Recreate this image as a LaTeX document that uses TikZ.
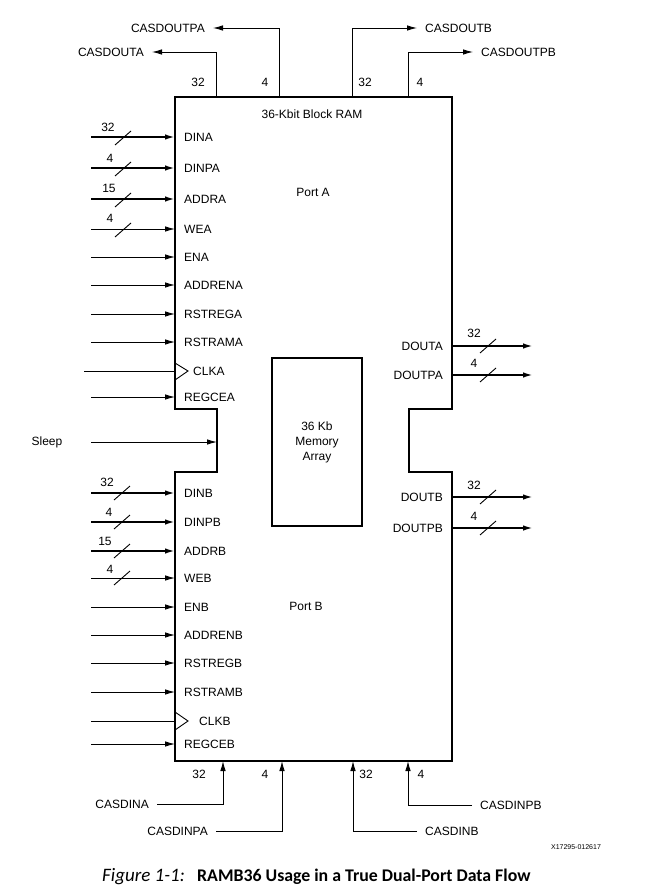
\documentclass[tikz,border=0pt]{standalone}
\usepackage{fontspec}
\setmainfont{Liberation Sans}
\newfontfamily\capfont{Carlito}
\usepackage{tikz}
\usetikzlibrary{arrows.meta, positioning}

\begin{document}
\begin{tikzpicture}[
    x=1pt, y=-1pt,
    font=\fontsize{12}{14}\selectfont,
    blk/.style={line width=2.2pt, line join=miter},
    memblk/.style={draw, line width=1.8pt, minimum width=90pt, minimum height=168pt, align=center, font=\fontsize{12}{15}\selectfont},
    arr/.style={-{Latex[length=10pt,width=5.5pt]}, line width=0.9pt},
    busarr/.style={-{Latex[length=10pt,width=5.5pt]}, line width=1.8pt},
    wire/.style={line width=0.9pt},
    slash/.style={line width=0.9pt},
    lpin/.style={anchor=west, inner xsep=9pt, inner ysep=0pt},
    rpin/.style={anchor=east, inner xsep=9pt, inner ysep=0pt},
    ltag/.style={anchor=east, inner xsep=8pt, inner ysep=0pt},
    rtag/.style={anchor=west, inner xsep=8pt, inner ysep=0pt},
    wlbl/.style={inner sep=0pt}
]
\useasboundingbox (0,0) rectangle (648,896);

% block outline with the sleep notch
\draw[blk] (175,97) -- (452,97) -- (452,409) -- (409,409) -- (409,472) -- (452,472)
    -- (452,761) -- (175,761) -- (175,472) -- (217,472) -- (217,409) -- (175,409) -- cycle;

\node (title) at (312,114) {36-Kbit Block RAM};
\node (porta) at (313,192) {Port A};
\node (portb) at (306,606) {Port B};
\node[memblk] (mem) at (317,442) {36 Kb\\Memory\\Array};

% port A inputs
\coordinate (dina-in) at (91,137);    \node[lpin] (dina) at (175,137) {DINA};
\coordinate (dinpa-in) at (91,168);   \node[lpin] (dinpa) at (175,168) {DINPA};
\coordinate (addra-in) at (91,199);   \node[lpin] (addra) at (175,199) {ADDRA};
\coordinate (wea-in) at (91,229);     \node[lpin] (wea) at (175,229) {WEA};
\coordinate (ena-in) at (91,257);     \node[lpin] (ena) at (175,257) {ENA};
\coordinate (addrena-in) at (91,285); \node[lpin] (addrena) at (175,285) {ADDRENA};
\coordinate (rstrega-in) at (91,314); \node[lpin] (rstrega) at (175,314) {RSTREGA};
\coordinate (rstrama-in) at (91,342); \node[lpin] (rstrama) at (175,342) {RSTRAMA};
\coordinate (clka-in) at (84,371);    \coordinate (clka-pin) at (175,371);
\node[lpin, inner xsep=18pt] (clka) at (175,371) {CLKA};
\coordinate (regcea-in) at (91,397);  \node[lpin] (regcea) at (175,397) {REGCEA};

\draw[busarr] (dina-in) -- (dina.west);
\draw[busarr] (dinpa-in) -- (dinpa.west);
\draw[busarr] (addra-in) -- (addra.west);
\draw[arr] (wea-in) -- (wea.west);
\draw[arr] (ena-in) -- (ena.west);
\draw[arr] (addrena-in) -- (addrena.west);
\draw[arr] (rstrega-in) -- (rstrega.west);
\draw[arr] (rstrama-in) -- (rstrama.west);
\draw[wire] (clka-in) -- (clka-pin);
\draw[wire] (175,363) -- (188,371) -- (175,380);
\draw[arr] (regcea-in) -- (regcea.west);

\node[wlbl] (w-dina) at (108,127) {32};
\node[wlbl] (w-dinpa) at (110,158) {4};
\node[wlbl] (w-addra) at (109,188) {15};
\node[wlbl] (w-wea) at (110,218) {4};
\draw[slash] (115,145) -- ++(16,-14);
\draw[slash] (115,176) -- ++(16,-14);
\draw[slash] (115,207) -- ++(16,-14);
\draw[slash] (115,237) -- ++(16,-14);

% sleep
\node (sleep) at (47,442) {Sleep};
\coordinate (sleep-in) at (91,442);
\coordinate (sleep-pin) at (217,442);
\draw[arr] (sleep-in) -- (sleep-pin);

% port B inputs
\coordinate (dinb-in) at (91,493);    \node[lpin] (dinb) at (175,493) {DINB};
\coordinate (dinpb-in) at (91,522);   \node[lpin] (dinpb) at (175,522) {DINPB};
\coordinate (addrb-in) at (91,551);   \node[lpin] (addrb) at (175,551) {ADDRB};
\coordinate (web-in) at (91,578);     \node[lpin] (web) at (175,578) {WEB};
\coordinate (enb-in) at (91,607);     \node[lpin] (enb) at (175,607) {ENB};
\coordinate (addrenb-in) at (91,635); \node[lpin] (addrenb) at (175,635) {ADDRENB};
\coordinate (rstregb-in) at (91,663); \node[lpin] (rstregb) at (175,663) {RSTREGB};
\coordinate (rstramb-in) at (91,692); \node[lpin] (rstramb) at (175,692) {RSTRAMB};
\coordinate (clkb-in) at (91,721);    \coordinate (clkb-pin) at (175,721);
\node[lpin, inner xsep=24pt] (clkb) at (175,721) {CLKB};
\coordinate (regceb-in) at (91,744);  \node[lpin] (regceb) at (175,744) {REGCEB};

\draw[busarr] (dinb-in) -- (dinb.west);
\draw[busarr] (dinpb-in) -- (dinpb.west);
\draw[busarr] (addrb-in) -- (addrb.west);
\draw[arr] (web-in) -- (web.west);
\draw[arr] (enb-in) -- (enb.west);
\draw[arr] (addrenb-in) -- (addrenb.west);
\draw[arr] (rstregb-in) -- (rstregb.west);
\draw[arr] (rstramb-in) -- (rstramb.west);
\draw[wire] (clkb-in) -- (clkb-pin);
\draw[wire] (175,712) -- (188,721) -- (175,730);
\draw[arr] (regceb-in) -- (regceb.west);

\node[wlbl] (w-dinb) at (107,482) {32};
\node[wlbl] (w-dinpb) at (109,512) {4};
\node[wlbl] (w-addrb) at (105,541) {15};
\node[wlbl] (w-web) at (110,569) {4};
\draw[slash] (114,500) -- ++(16,-14);
\draw[slash] (114,529) -- ++(16,-14);
\draw[slash] (114,558) -- ++(16,-14);
\draw[slash] (114,585) -- ++(16,-14);

% outputs
\node[rpin] (douta) at (452,346) {DOUTA};   \coordinate (douta-out) at (533,346);
\node[rpin] (doutpa) at (452,375) {DOUTPA}; \coordinate (doutpa-out) at (533,375);
\node[rpin] (doutb) at (452,497) {DOUTB};   \coordinate (doutb-out) at (533,497);
\node[rpin] (doutpb) at (452,528) {DOUTPB}; \coordinate (doutpb-out) at (533,528);
\draw[busarr] (douta.east) -- (douta-out);
\draw[busarr] (doutpa.east) -- (doutpa-out);
\draw[busarr] (doutb.east) -- (doutb-out);
\draw[busarr] (doutpb.east) -- (doutpb-out);

\node[wlbl] (w-douta) at (474,333) {32};
\node[wlbl] (w-doutpa) at (474,363) {4};
\node[wlbl] (w-doutb) at (474,485) {32};
\node[wlbl] (w-doutpb) at (474,516) {4};
\draw[slash] (480,353) -- ++(16,-14);
\draw[slash] (480,382) -- ++(16,-14);
\draw[slash] (480,504) -- ++(16,-14);
\draw[slash] (480,535) -- ++(16,-14);

% cascade outputs
\coordinate (cdouta-pin) at (216,97);
\coordinate (cdoutpa-pin) at (279,97);
\coordinate (cdoutb-pin) at (352,97);
\coordinate (cdoutpb-pin) at (408,97);
\node[ltag] (casdouta) at (152,52) {CASDOUTA};
\node[ltag] (casdoutpa) at (213,28) {CASDOUTPA};
\node[rtag] (casdoutb) at (417,28) {CASDOUTB};
\node[rtag] (casdoutpb) at (473,52) {CASDOUTPB};
\draw[arr] (cdouta-pin) |- (casdouta.east);
\draw[arr] (cdoutpa-pin) |- (casdoutpa.east);
\draw[arr] (cdoutb-pin) |- (casdoutb.west);
\draw[arr] (cdoutpb-pin) |- (casdoutpb.west);
\node[wlbl] (w-casdouta) at (198,82) {32};
\node[wlbl] (w-casdoutpa) at (265,82) {4};
\node[wlbl] (w-casdoutb) at (365,82) {32};
\node[wlbl] (w-casdoutpb) at (420,82) {4};

% cascade inputs
\coordinate (cdina-pin) at (223,761);
\coordinate (cdinpa-pin) at (282,761);
\coordinate (cdinb-pin) at (353,761);
\coordinate (cdinpb-pin) at (408,761);
\node[ltag] (casdina) at (157,804) {CASDINA};
\node[ltag] (casdinpa) at (216,831) {CASDINPA};
\node[rtag] (casdinb) at (417,831) {CASDINB};
\node[rtag] (casdinpb) at (472,805) {CASDINPB};
\draw[arr] (casdina.east) -| (cdina-pin);
\draw[arr] (casdinpa.east) -| (cdinpa-pin);
\draw[arr] (casdinb.west) -| (cdinb-pin);
\draw[arr] (casdinpb.west) -| (cdinpb-pin);
\node[wlbl] (w-casdina) at (199,774) {32};
\node[wlbl] (w-casdinpa) at (265,774) {4};
\node[wlbl] (w-casdinb) at (366,774) {32};
\node[wlbl] (w-casdinpb) at (421,774) {4};

\node[font=\fontsize{7}{8}\selectfont] (xid) at (576,847) {X17295-012617};

% caption
\node[anchor=west, inner sep=0pt, font=\capfont\itshape\fontsize{19}{22}\selectfont] (figno) at (102,877) {Figure 1-1:};
\node[anchor=west, inner sep=0pt, font=\capfont\bfseries\fontsize{17.8}{21}\selectfont] (figtitle) at (197,877) {RAMB36 Usage in a True Dual-Port Data Flow};

\end{tikzpicture}
\end{document}
